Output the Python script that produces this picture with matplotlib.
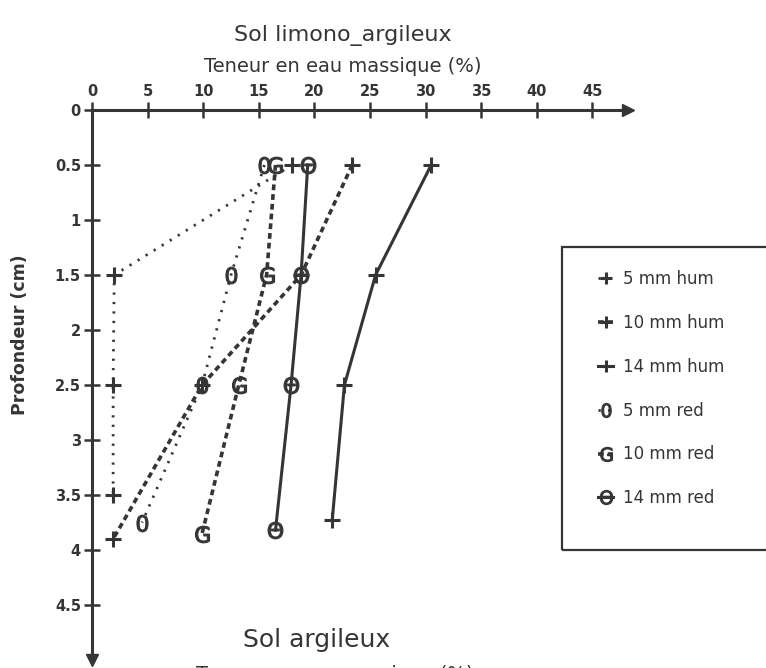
import matplotlib
matplotlib.use("Agg")
import matplotlib.pyplot as plt
from matplotlib.patches import Rectangle

# Water content (%) versus depth (cm) for each rainfall / soil-state combination
hum5_x = [18.0, 2.0, 1.9, 1.9]
hum5_y = [0.5, 1.5, 2.5, 3.5]
hum10_x = [23.4, 18.8, 9.9, 1.9]
hum10_y = [0.5, 1.5, 2.5, 3.9]
hum14_x = [30.5, 25.5, 22.7, 21.6]
hum14_y = [0.5, 1.5, 2.5, 3.73]
red5_x = [15.5, 12.5, 9.9, 4.5]
red5_y = [0.5, 1.5, 2.5, 3.75]
red10_x = [16.5, 15.7, 13.2, 9.9]
red10_y = [0.5, 1.5, 2.5, 3.85]
red14_x = [19.4, 18.8, 17.9, 16.5]
red14_y = [0.5, 1.5, 2.5, 3.82]

labels = ["5 mm hum", "10 mm hum", "14 mm hum", "5 mm red", "10 mm red", "14 mm red"]
x_ticks = [0, 5, 10, 15, 20, 25, 30, 35, 40, 45]
y_ticks = [0, 0.5, 1, 1.5, 2, 2.5, 3, 3.5, 4, 4.5]
y_tick_labels = ["0", "0.5", "1", "1.5", "2", "2.5", "3", "3.5", "4", "4.5"]

INK = "#353535"
W, H = 766, 668

fig = plt.figure(figsize=(W / 100, H / 100), dpi=100)
fig.patch.set_facecolor("white")

def fx(px):
    return px / W

def fy(py):
    return 1 - py / H

ax = fig.add_axes([fx(92), fy(660), fx(628) - fx(92), fy(110) - fy(660)])
ax.set_xlim(0, 48.2)
ax.set_ylim(5.0, 0)
ax.set_facecolor("none")

dotted = (0, (0.8, 2.6))
dashed = (0, (1.6, 1.1))

series = [
    (hum5_x, hum5_y, dotted, "+", 2.0),
    (hum10_x, hum10_y, dashed, "+", 2.6),
    (hum14_x, hum14_y, "-", "+", 2.2),
    (red5_x, red5_y, dotted, r"$\mathrm{0}$", 2.0),
    (red10_x, red10_y, dashed, r"$\mathrm{G}$", 2.6),
    (red14_x, red14_y, "-", r"$\Theta$", 2.2),
]

handles = []
for (xs, ys, ls, mk, lw), lab in zip(series, labels):
    plus = mk == "+"
    h, = ax.plot(xs, ys, color=INK, linestyle=ls, linewidth=lw,
                 marker=mk, markersize=11 if plus else 12,
                 markeredgewidth=2.2 if plus else 0.8,
                 markerfacecolor=INK, markeredgecolor=INK,
                 label=lab, clip_on=False)
    handles.append(h)

# axes drawn as two arrows crossing at the origin
for side in ("right", "bottom"):
    ax.spines[side].set_visible(False)
for side in ("top", "left"):
    ax.spines[side].set_linewidth(2.2)
    ax.spines[side].set_color(INK)
ax.plot([1], [1], marker=">", color=INK, markersize=9, transform=ax.transAxes, clip_on=False)
ax.plot([0], [0], marker="v", color=INK, markersize=9, transform=ax.transAxes, clip_on=False)

ax.xaxis.tick_top()
ax.yaxis.tick_left()
ax.set_xticks(x_ticks)
ax.set_xticklabels([str(t) for t in x_ticks])
ax.set_yticks(y_ticks)
ax.set_yticklabels(y_tick_labels)
ax.tick_params(axis="both", direction="inout", length=12, width=1.8, colors=INK,
               labelsize=10.5, pad=2)
for t in ax.get_xticklabels() + ax.get_yticklabels():
    t.set_fontweight("bold")

fig.text(fx(343), fy(35), "Sol limono_argileux", ha="center", va="center",
         fontsize=16, color=INK)
fig.text(fx(343), fy(66), "Teneur en eau massique (%)", ha="center", va="center",
         fontsize=14, color=INK)
fig.text(fx(20), fy(335), "Profondeur (cm)", ha="center", va="center", rotation=90,
         fontsize=12.5, fontweight="bold", color=INK)
fig.text(fx(317), fy(640), "Sol argileux", ha="center", va="center",
         fontsize=18, color=INK)
fig.text(fx(335), fy(665), "Teneur en eau massique (%)", ha="center", va="top",
         fontsize=14, color=INK)

# legend panel running off the right edge
fig.patches.append(Rectangle((fx(562), fy(550)), fx(790) - fx(562), fy(247) - fy(550),
                             transform=fig.transFigure, fill=False, linewidth=1.6,
                             edgecolor=INK))
leg = ax.legend(handles=handles, loc="upper left", bbox_to_anchor=(fx(598), fy(270)),
                bbox_transform=fig.transFigure, frameon=False, handlelength=0.9,
                handletextpad=0.6, labelspacing=1.55, fontsize=12, borderpad=0,
                borderaxespad=0, markerscale=0.85)
for t in leg.get_texts():
    t.set_color(INK)

fig.savefig("out.png", dpi=100, facecolor="white")
